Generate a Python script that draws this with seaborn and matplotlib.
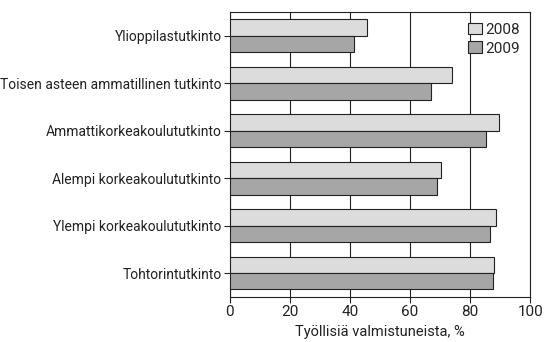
import pandas as pd
import numpy as np
import seaborn as sns
import matplotlib.pyplot as plt

# Datos
categorias = ['Ylioppilastutkinto',
              'Toisen asteen ammatillinen tutkinto',
              'Ammattikorkeakoulututkinto',
              'Alempi korkeakoulututkinto',
              'Ylempi korkeakoulututkinto',
              'Tohtorintutkinto']
vuodet = ['2008', '2009']
v2008 = [45.6, 74.1, 89.6, 70.4, 88.6, 87.8]
v2009 = [41.3, 67.1, 85.3, 68.9, 86.6, 87.7]
xticks = [0, 20, 40, 60, 80, 100]

df = pd.DataFrame({
    'kategoria': categorias * 2,
    'vuosi': [vuodet[0]] * len(categorias) + [vuodet[1]] * len(categorias),
    'arvo': v2008 + v2009,
})

sns.set_style('white')
plt.rcParams['font.family'] = ['Roboto', 'DejaVu Sans']
FS = 10

fig = plt.figure(figsize=(5.46, 3.42), dpi=100)
ax = fig.add_axes([0.421, 0.132, 0.55, 0.833])

sns.barplot(data=df, y='kategoria', x='arvo', hue='vuosi', orient='h',
            palette=['#dcdcdc', '#a6a6a6'], width=0.69, gap=0,
            edgecolor='#222222', linewidth=0.8, ax=ax, zorder=3)

ax.set_xlim(0, 100)
ax.set_xticks(xticks)
ax.set_xticklabels([str(t) for t in xticks], fontsize=FS + 1, color='#222222')
ax.tick_params(axis='y', labelsize=FS, labelcolor='#222222', length=4,
               width=0.8, direction='out', left=True, pad=2)
ax.tick_params(axis='x', length=4, width=0.8, direction='out', bottom=True, pad=2)
ax.xaxis.grid(True, color='#222222', linewidth=0.8, zorder=0)
ax.yaxis.grid(False)
for s in ax.spines.values():
    s.set_color('#222222')
    s.set_linewidth(0.8)
ax.set_ylabel('')
ax.set_xlabel('Työllisiä valmistuneista, %', fontsize=FS + 0.5, color='#222222', labelpad=4)

leg = ax.legend(loc='upper right', frameon=False, fontsize=FS + 1,
                handlelength=0.9, handleheight=0.8, handletextpad=0.2,
                borderaxespad=0.3, labelspacing=0.3)

fig.savefig('out.png', dpi=100)
